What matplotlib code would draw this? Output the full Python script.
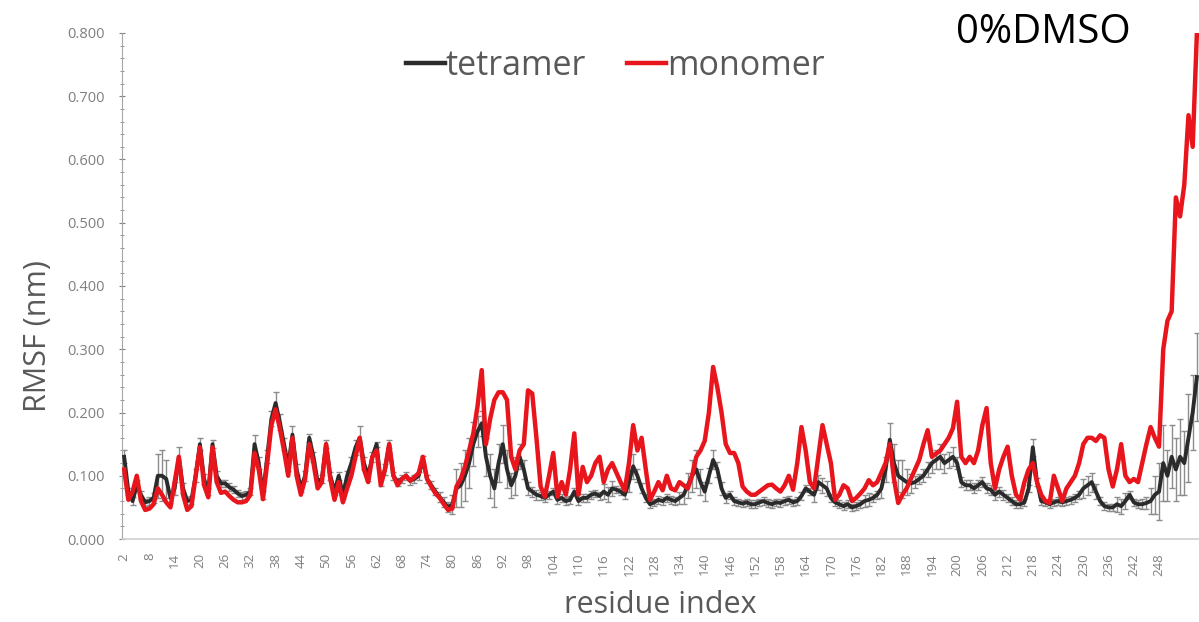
import matplotlib
matplotlib.use("Agg")
import matplotlib.pyplot as plt
from matplotlib.ticker import MultipleLocator, FormatStrFormatter

plt.rcParams['font.family'] = ['Open Sans', 'DejaVu Sans']

# residue numbers on the x axis (2..257)
residues = list(range(2, 258))

# RMSF of the monomer (nm)
monomer = [
    0.110, 0.062, 0.075, 0.100, 0.060, 0.046, 0.048, 0.055, 0.080, 0.070,
    0.058, 0.050, 0.090, 0.130, 0.070, 0.046, 0.052, 0.100, 0.145, 0.085,
    0.066, 0.145, 0.090, 0.073, 0.075, 0.068, 0.062, 0.058, 0.058, 0.060,
    0.070, 0.136, 0.110, 0.063, 0.120, 0.180, 0.205, 0.175, 0.140, 0.100,
    0.160, 0.100, 0.070, 0.095, 0.150, 0.120, 0.080, 0.090, 0.150, 0.095,
    0.062, 0.090, 0.058, 0.080, 0.100, 0.130, 0.160, 0.110, 0.090, 0.130,
    0.140, 0.085, 0.110, 0.150, 0.100, 0.085, 0.095, 0.100, 0.092, 0.098,
    0.104, 0.130, 0.095, 0.083, 0.072, 0.065, 0.055, 0.046, 0.048, 0.083,
    0.095, 0.114, 0.140, 0.167, 0.210, 0.267, 0.150, 0.190, 0.220, 0.232,
    0.232, 0.220, 0.130, 0.110, 0.140, 0.150, 0.235, 0.230, 0.160, 0.083,
    0.067, 0.100, 0.136, 0.067, 0.090, 0.070, 0.110, 0.167, 0.070, 0.114,
    0.090, 0.100, 0.120, 0.130, 0.090, 0.110, 0.120, 0.105, 0.090, 0.077,
    0.120, 0.180, 0.140, 0.160, 0.110, 0.062, 0.075, 0.090, 0.077, 0.100,
    0.080, 0.077, 0.090, 0.085, 0.080, 0.100, 0.130, 0.140, 0.155, 0.200,
    0.272, 0.240, 0.200, 0.150, 0.136, 0.136, 0.120, 0.083, 0.075, 0.070,
    0.070, 0.075, 0.080, 0.085, 0.086, 0.080, 0.075, 0.085, 0.100, 0.078,
    0.120, 0.177, 0.140, 0.090, 0.080, 0.130, 0.180, 0.150, 0.120, 0.062,
    0.070, 0.085, 0.080, 0.060, 0.065, 0.072, 0.080, 0.093, 0.085, 0.090,
    0.105, 0.120, 0.150, 0.095, 0.057, 0.070, 0.080, 0.095, 0.110, 0.125,
    0.150, 0.172, 0.130, 0.135, 0.140, 0.150, 0.160, 0.175, 0.217, 0.130,
    0.120, 0.130, 0.120, 0.140, 0.180, 0.207, 0.120, 0.080, 0.110, 0.130,
    0.146, 0.100, 0.070, 0.062, 0.090, 0.110, 0.120, 0.090, 0.070, 0.060,
    0.057, 0.100, 0.080, 0.060, 0.080, 0.090, 0.100, 0.120, 0.150, 0.160,
    0.160, 0.155, 0.164, 0.160, 0.110, 0.083, 0.110, 0.150, 0.100, 0.090,
    0.095, 0.090, 0.120, 0.150, 0.177, 0.160, 0.146, 0.300, 0.345, 0.360,
    0.540, 0.510, 0.560, 0.670, 0.620, 0.800,
]

# RMSF of the tetramer (nm) and its standard deviation
tetramer = [
    0.130, 0.075, 0.060, 0.085, 0.070, 0.058, 0.060, 0.065, 0.100, 0.100,
    0.095, 0.065, 0.080, 0.130, 0.080, 0.060, 0.062, 0.100, 0.150, 0.095,
    0.075, 0.150, 0.100, 0.088, 0.088, 0.082, 0.078, 0.072, 0.068, 0.070,
    0.075, 0.150, 0.120, 0.070, 0.130, 0.190, 0.215, 0.185, 0.150, 0.115,
    0.165, 0.110, 0.080, 0.100, 0.160, 0.130, 0.090, 0.095, 0.150, 0.100,
    0.075, 0.100, 0.070, 0.100, 0.120, 0.145, 0.160, 0.120, 0.100, 0.130,
    0.150, 0.090, 0.110, 0.150, 0.100, 0.090, 0.095, 0.100, 0.092, 0.095,
    0.100, 0.125, 0.095, 0.085, 0.075, 0.066, 0.058, 0.050, 0.055, 0.080,
    0.085, 0.100, 0.120, 0.150, 0.170, 0.183, 0.130, 0.100, 0.080, 0.120,
    0.150, 0.110, 0.085, 0.100, 0.130, 0.110, 0.080, 0.075, 0.070, 0.068,
    0.065, 0.070, 0.075, 0.062, 0.065, 0.060, 0.062, 0.075, 0.060, 0.065,
    0.065, 0.070, 0.072, 0.068, 0.075, 0.070, 0.080, 0.078, 0.075, 0.070,
    0.090, 0.115, 0.100, 0.080, 0.065, 0.055, 0.058, 0.062, 0.060, 0.065,
    0.062, 0.060, 0.065, 0.070, 0.085, 0.100, 0.110, 0.090, 0.075, 0.100,
    0.125, 0.110, 0.080, 0.065, 0.070, 0.060, 0.058, 0.056, 0.058, 0.055,
    0.055, 0.058, 0.060, 0.057, 0.055, 0.058, 0.057, 0.060, 0.062, 0.058,
    0.060, 0.068, 0.080, 0.075, 0.070, 0.090, 0.085, 0.080, 0.065, 0.058,
    0.055, 0.052, 0.055, 0.050, 0.052, 0.055, 0.060, 0.062, 0.065, 0.070,
    0.080, 0.110, 0.157, 0.120, 0.100, 0.095, 0.090, 0.088, 0.090, 0.095,
    0.100, 0.110, 0.120, 0.125, 0.130, 0.120, 0.125, 0.130, 0.120, 0.090,
    0.085, 0.085, 0.080, 0.085, 0.090, 0.080, 0.078, 0.070, 0.075, 0.070,
    0.065, 0.060, 0.055, 0.055, 0.058, 0.080, 0.145, 0.090, 0.060, 0.058,
    0.055, 0.058, 0.060, 0.058, 0.060, 0.062, 0.065, 0.070, 0.080, 0.085,
    0.090, 0.075, 0.060, 0.052, 0.050, 0.050, 0.055, 0.052, 0.060, 0.070,
    0.058, 0.055, 0.055, 0.057, 0.060, 0.070, 0.075, 0.120, 0.100, 0.130,
    0.110, 0.130, 0.120, 0.160, 0.200, 0.256,
]

tetramer_sd = [
    0.010, 0.006, 0.006, 0.008, 0.006, 0.006, 0.006, 0.008, 0.035, 0.040,
    0.030, 0.008, 0.010, 0.015, 0.008, 0.006, 0.006, 0.010, 0.010, 0.008,
    0.006, 0.006, 0.008, 0.006, 0.006, 0.006, 0.006, 0.006, 0.006, 0.006,
    0.006, 0.015, 0.010, 0.006, 0.010, 0.012, 0.017, 0.012, 0.010, 0.008,
    0.013, 0.008, 0.006, 0.008, 0.006, 0.008, 0.006, 0.006, 0.006, 0.006,
    0.006, 0.006, 0.006, 0.008, 0.010, 0.012, 0.018, 0.010, 0.008, 0.008,
    0.004, 0.006, 0.008, 0.006, 0.006, 0.006, 0.006, 0.006, 0.006, 0.006,
    0.006, 0.006, 0.006, 0.006, 0.006, 0.008, 0.008, 0.008, 0.015, 0.030,
    0.035, 0.040, 0.040, 0.035, 0.025, 0.020, 0.030, 0.035, 0.030, 0.030,
    0.030, 0.030, 0.020, 0.030, 0.020, 0.015, 0.010, 0.008, 0.008, 0.006,
    0.006, 0.006, 0.006, 0.006, 0.006, 0.006, 0.006, 0.006, 0.006, 0.006,
    0.006, 0.006, 0.006, 0.006, 0.012, 0.012, 0.012, 0.006, 0.006, 0.006,
    0.015, 0.020, 0.010, 0.008, 0.006, 0.006, 0.006, 0.006, 0.006, 0.006,
    0.006, 0.006, 0.010, 0.015, 0.020, 0.025, 0.030, 0.020, 0.015, 0.012,
    0.015, 0.012, 0.010, 0.008, 0.006, 0.006, 0.006, 0.006, 0.006, 0.006,
    0.006, 0.006, 0.006, 0.006, 0.006, 0.006, 0.006, 0.006, 0.006, 0.006,
    0.006, 0.006, 0.006, 0.006, 0.012, 0.012, 0.012, 0.012, 0.006, 0.006,
    0.006, 0.006, 0.006, 0.006, 0.006, 0.006, 0.010, 0.010, 0.006, 0.006,
    0.015, 0.020, 0.026, 0.030, 0.025, 0.030, 0.020, 0.015, 0.010, 0.008,
    0.010, 0.012, 0.015, 0.015, 0.020, 0.015, 0.012, 0.015, 0.010, 0.008,
    0.008, 0.008, 0.008, 0.008, 0.008, 0.008, 0.008, 0.008, 0.008, 0.008,
    0.006, 0.006, 0.006, 0.006, 0.006, 0.006, 0.013, 0.006, 0.006, 0.006,
    0.006, 0.006, 0.006, 0.006, 0.006, 0.006, 0.006, 0.006, 0.015, 0.015,
    0.015, 0.012, 0.006, 0.006, 0.006, 0.006, 0.012, 0.012, 0.012, 0.006,
    0.006, 0.006, 0.008, 0.010, 0.020, 0.030, 0.045, 0.060, 0.040, 0.050,
    0.050, 0.060, 0.050, 0.070, 0.060, 0.070,
]

# labelled residues along the x axis
tick_residues = list(range(2, 249, 6))

GRAY_TXT = '#595959'
GRAY_TICK = '#7f7f7f'

fig = plt.figure(figsize=(11.99, 6.22), dpi=100)
ax = fig.add_axes([0.1018, 0.1334, 0.8982, 0.8136])

ax.errorbar(residues, tetramer, yerr=tetramer_sd, fmt='none',
            ecolor='#8c8c8c', elinewidth=1.0, capsize=2.5, capthick=1.0, zorder=2)
ax.plot(residues, tetramer, color='#2b2b2b', lw=2.8, label='tetramer', zorder=3)
ax.plot(residues, monomer, color='#e8161c', lw=3.2, label='monomer', zorder=4)

ax.set_xlim(1.5, 257.5)
ax.set_ylim(0, 0.8)

ax.yaxis.set_major_locator(MultipleLocator(0.1))
ax.yaxis.set_minor_locator(MultipleLocator(0.02))
ax.yaxis.set_major_formatter(FormatStrFormatter('%.3f'))
ax.tick_params(axis='y', which='major', direction='inout', length=5, width=0.8,
               colors=GRAY_TICK, labelsize=10.5, pad=10)
ax.tick_params(axis='y', which='minor', direction='inout', length=3, width=0.6,
               colors=GRAY_TICK)

ax.set_xticks(tick_residues)
ax.set_xticklabels([str(r) for r in tick_residues], rotation=90)
ax.tick_params(axis='x', length=0, labelsize=9.5, labelcolor=GRAY_TICK, pad=10)

for side in ('top', 'right'):
    ax.spines[side].set_visible(False)
ax.spines['left'].set_color('#a6a6a6')
ax.spines['bottom'].set_color('#d0d0d0')
ax.spines['bottom'].set_linewidth(1.2)

fig.text(0.032, 0.46, 'RMSF (nm)', rotation=90, ha='center', va='center',
         fontsize=22, color=GRAY_TXT)
fig.text(0.551, 0.027, 'residue index', ha='center', va='center',
         fontsize=22, color=GRAY_TXT)
fig.text(0.87, 0.948, '0%DMSO', ha='center', va='center', fontsize=29, color='black')

leg = ax.legend(loc='center', bbox_to_anchor=(0.458, 0.935), ncol=2, frameon=False,
                fontsize=24.5, handlelength=1.15, handletextpad=0.02, columnspacing=1.2)
for t in leg.get_texts():
    t.set_color(GRAY_TXT)
for h in leg.get_lines():
    h.set_linewidth(3.2)

fig.savefig('out.png', dpi=100, facecolor='white')
